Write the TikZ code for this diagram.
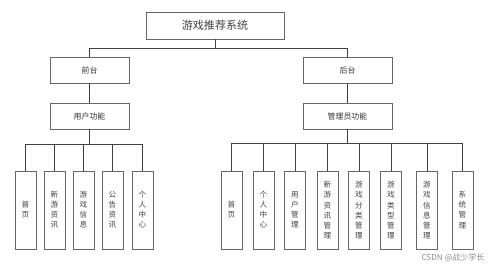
\documentclass[tikz,border=0pt]{standalone}
\usepackage{fontspec}
\setmainfont{Noto Sans CJK SC}
\usetikzlibrary{positioning}

\begin{document}
\begin{tikzpicture}[x=0.02cm,y=-0.02cm,
  line width=0.5pt,
  topbox/.style={draw=black!60, fill=white, minimum width=2.76cm, minimum height=0.54cm,
    inner sep=0pt, text=black!75, font=\fontsize{6.3}{7}\selectfont},
  midbox/.style={draw=black!60, fill=white, minimum width=#1, minimum height=0.52cm,
    inner sep=0pt, text=black!80, font=\fontsize{4.5}{5}\selectfont},
  leafbox/.style={draw=black!60, fill=white, minimum width=0.42cm, minimum height=1.56cm,
    inner sep=0pt, align=center, text=black!75, font=\fontsize{4.3}{5.7}\selectfont},
  link/.style={draw=black!75}]
  \useasboundingbox (0,0) rectangle (499,268);
  % 顶层
  \node[topbox] (sys) at (215,25.5) {游戏推荐系统};
  \node[midbox=1.58cm] (front) at (89.5,70) {前台};
  \node[midbox=1.78cm] (back) at (347.5,70) {后台};
  \node[midbox=1.58cm] (user) at (89.5,116) {用户功能};
  \node[midbox=1.78cm] (admin) at (347.5,116) {管理员功能};
  \draw[link] (sys.south) -- ++(0,9) -| (front.north);
  \draw[link] (sys.south) -- ++(0,9) -| (back.north);
  \draw[link] (front) -- (user);
  \draw[link] (back) -- (admin);
  % 前台功能
  \foreach \x/\t [count=\i] in {25.5/首\\页, 54.5/新\\游\\资\\讯, 83.5/游\\戏\\信\\息,
      112.5/公\\告\\资\\讯, 142.5/个\\人\\中\\心} {
    \node[leafbox] (u\i) at (\x,210) {\t};
    \draw[link] (user.south) -- ++(0,15) -| (u\i.north);
  }
  % 后台功能
  \foreach \x/\t [count=\i] in {231.5/首\\页, 263.5/个\\人\\中\\心, 295/用\\户\\管\\理,
      327.5/新\\游\\资\\讯\\管\\理, 359/游\\戏\\分\\类\\管\\理, 391/游\\戏\\类\\型\\管\\理,
      427/游\\戏\\信\\息\\管\\理, 462.5/系\\统\\管\\理} {
    \node[leafbox] (a\i) at (\x,210) {\t};
    \draw[link] (admin.south) -- ++(0,14) -| (a\i.north);
  }
  \node[text=black!45, font=\fontsize{4.6}{5}\selectfont] (mark) at (453,258) {CSDN @战少学长};
\end{tikzpicture}
\end{document}
